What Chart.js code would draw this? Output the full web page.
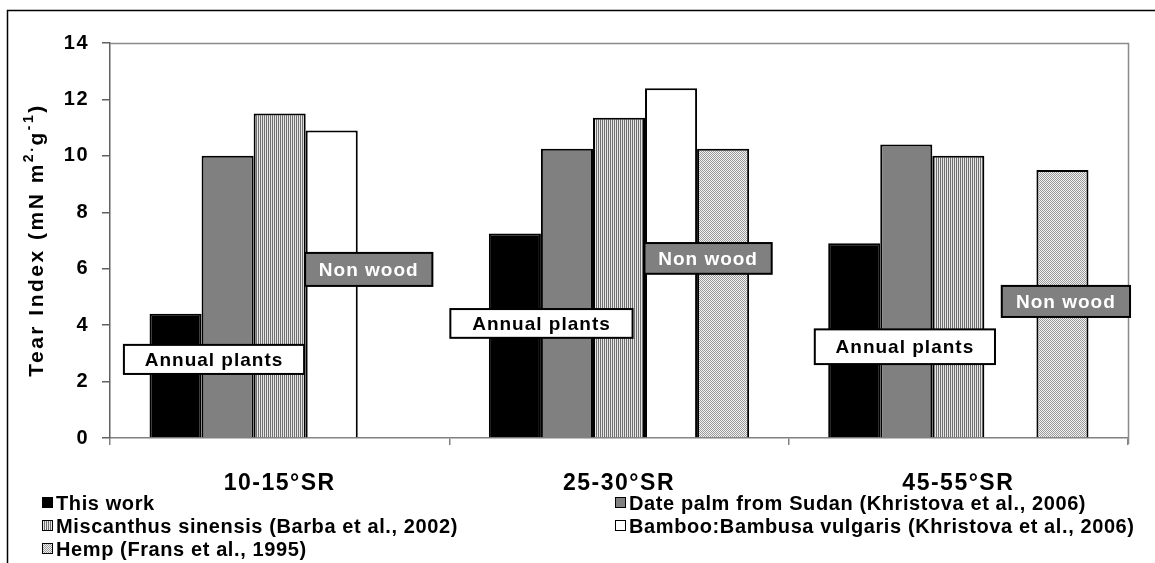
<!DOCTYPE html>
<html>
<head>
<meta charset="utf-8">
<script src="https://cdn.jsdelivr.net/npm/chart.js@4"></script>
<style>
  html, body { margin: 0; padding: 0; background: #fff; }
  #wrap { position: relative; width: 1155px; height: 563px; }
</style>
</head>
<body>
<div id="wrap"><canvas id="c" width="1155" height="563"></canvas></div>
<script>
// Spinning-range categories and tear index values (mN m2/g)
const categories = ['10-15°SR', '25-30°SR', '45-55°SR'];
const thisWork   = [4.4, 7.25, 6.9];
const datePalm   = [10.0, 10.25, 10.4];
const miscanthus = [11.5, 11.35, 10.0];
const bamboo     = [10.9, 12.4, null];
const hemp       = [null, 10.25, 9.5];
const seriesNames = [
  'This work',
  'Date palm from Sudan (Khristova et al., 2006)',
  'Miscanthus sinensis (Barba et al., 2002)',
  'Bamboo:Bambusa vulgaris (Khristova et al., 2006)',
  'Hemp (Frans et al., 1995)'
];
const yTicks = [0, 2, 4, 6, 8, 10, 12, 14];

// Group labels placed inside the plot: category index, horizontal span
// (fraction of a category around its centre) and vertical span (value units)
const notes = [
  { text: 'Annual plants', cat: 0, x0: -0.459, x1: 0.072, y0: 2.27, y1: 3.30, kind: 'annual' },
  { text: 'Non wood',      cat: 0, x0: 0.075,  x1: 0.45,  y0: 5.39, y1: 6.56, kind: 'nonwood' },
  { text: 'Annual plants', cat: 1, x0: -0.497, x1: 0.040, y0: 3.55, y1: 4.57, kind: 'annual' },
  { text: 'Non wood',      cat: 1, x0: 0.075,  x1: 0.45,  y0: 5.82, y1: 6.91, kind: 'nonwood' },
  { text: 'Annual plants', cat: 2, x0: -0.423, x1: 0.108, y0: 2.62, y1: 3.85, kind: 'annual' },
  { text: 'Non wood',      cat: 2, x0: 0.128,  x1: 0.506, y0: 4.29, y1: 5.39, kind: 'nonwood' }
];

function makePattern(w, h, painter) {
  const cv = document.createElement('canvas');
  cv.width = w; cv.height = h;
  const g = cv.getContext('2d');
  painter(g);
  return g.createPattern(cv, 'repeat');
}
// fine vertical hatching
const stripeFill = makePattern(2, 1, g => {
  g.fillStyle = '#e6e6e6'; g.fillRect(0, 0, 2, 1);
  g.fillStyle = '#707070'; g.fillRect(0, 0, 1, 1);
});
// fine stipple
const dotFill = makePattern(2, 2, g => {
  g.fillStyle = '#f2f2f2'; g.fillRect(0, 0, 2, 2);
  g.fillStyle = '#9a9a9a'; g.fillRect(0, 0, 1, 1); g.fillRect(1, 1, 1, 1);
});

const fills = ['#000000', '#808080', stripeFill, '#ffffff', dotFill];
const values = [thisWork, datePalm, miscanthus, bamboo, hemp];

const FONT = '"Liberation Sans", Arial, sans-serif';

const decorPlugin = {
  id: 'decor',
  beforeDraw(chart) {
    const { ctx } = chart;
    ctx.fillStyle = '#fff';
    ctx.fillRect(0, 0, chart.width, chart.height);
    // wide letter spacing used by all axis text
    ctx.letterSpacing = '1.5px';
    ctx.save();
    // outer frame
    ctx.strokeStyle = '#000';
    ctx.lineWidth = 1.5;
    ctx.strokeRect(7.5, 10.5, 1300, 700);
    ctx.restore();
  },
  beforeDatasetsDraw(chart) {
    const { ctx, chartArea: a } = chart;
    ctx.save();
    ctx.strokeStyle = '#8a8a8a';
    ctx.lineWidth = 1.5;
    ctx.beginPath();
    ctx.moveTo(a.left, a.top + 0.5);
    ctx.lineTo(a.right + 0.5, a.top + 0.5);
    ctx.lineTo(a.right + 0.5, a.bottom + 6);
    ctx.stroke();
    ctx.restore();
  },
  afterDatasetsDraw(chart) {
    const { ctx } = chart;
    const xs = chart.scales.x, ys = chart.scales.y;
    const catW = (xs.right - xs.left) / categories.length;
    ctx.save();
    ctx.font = 'bold 19px ' + FONT;
    ctx.letterSpacing = '1px';
    ctx.textAlign = 'center';
    ctx.textBaseline = 'middle';
    notes.forEach(n => {
      const cx = xs.getPixelForValue(n.cat);
      const l = cx + n.x0 * catW, r = cx + n.x1 * catW;
      const t = ys.getPixelForValue(n.y1), b = ys.getPixelForValue(n.y0);
      ctx.fillStyle = n.kind === 'annual' ? '#ffffff' : '#808080';
      ctx.fillRect(l, t, r - l, b - t);
      ctx.strokeStyle = '#000';
      ctx.lineWidth = 2;
      ctx.strokeRect(l, t, r - l, b - t);
      ctx.fillStyle = n.kind === 'annual' ? '#000' : '#fff';
      ctx.fillText(n.text, (l + r) / 2, (t + b) / 2 + 1);
    });
    ctx.restore();
  },
  afterDraw(chart) {
    const { ctx } = chart;
    ctx.save();
    // y axis title with superscripts
    const parts = [
      { s: 'Tear Index (mN m', sup: false },
      { s: '2.', sup: true },
      { s: 'g', sup: false },
      { s: '-1', sup: true },
      { s: ')', sup: false }
    ];
    const big = 'bold 21px ' + FONT, small = 'bold 14px ' + FONT;
    ctx.letterSpacing = '2.5px';
    let total = 0;
    parts.forEach(p => { ctx.font = p.sup ? small : big; p.w = ctx.measureText(p.s).width; total += p.w; });
    ctx.translate(37, 240);
    ctx.rotate(-Math.PI / 2);
    ctx.fillStyle = '#000';
    ctx.textBaseline = 'middle';
    ctx.textAlign = 'left';
    let x = -total / 2;
    parts.forEach(p => {
      ctx.font = p.sup ? small : big;
      ctx.fillText(p.s, x, p.sup ? -8 : 0);
      x += p.w;
    });
    ctx.restore();

    // legend in two columns
    ctx.save();
    const cols = [42, 615];
    const rows = [503, 526, 549];
    ctx.font = 'bold 20px ' + FONT;
    ctx.letterSpacing = '0.6px';
    ctx.textBaseline = 'middle';
    ctx.textAlign = 'left';
    seriesNames.forEach((name, i) => {
      const x = cols[i % 2], y = rows[Math.floor(i / 2)];
      ctx.fillStyle = fills[i];
      ctx.fillRect(x, y - 6, 11, 11);
      ctx.strokeStyle = '#000';
      ctx.lineWidth = 1;
      ctx.strokeRect(x + 0.5, y - 5.5, 10, 10);
      ctx.fillStyle = '#000';
      ctx.fillText(name, x + 14, y + 1);
    });
    ctx.restore();
  }
};

new Chart(document.getElementById('c'), {
  type: 'bar',
  data: {
    labels: categories,
    datasets: values.map((v, i) => ({
      label: seriesNames[i],
      data: v,
      backgroundColor: fills[i],
      borderColor: '#000',
      borderWidth: 2,
      borderSkipped: 'bottom',
      categoryPercentage: 0.767,
      barPercentage: 1.0
    }))
  },
  options: {
    responsive: false,
    animation: false,
    events: [],
    layout: { padding: { left: 10, top: 43, right: 27, bottom: 65 } },
    plugins: { legend: { display: false }, title: { display: false }, tooltip: { enabled: false } },
    scales: {
      x: {
        grid: { offset: true, drawOnChartArea: false, tickLength: 7, color: '#808080', lineWidth: 1.5 },
        border: { color: '#808080', width: 1.5 },
        ticks: { color: '#000', font: { family: FONT, size: 23, weight: 'bold' }, padding: 25, maxRotation: 0 },
        afterFit(s) { s.height = 60; }
      },
      y: {
        min: 0, max: 14,
        afterBuildTicks(s) { s.ticks = yTicks.map(v => ({ value: v })); },
        grid: { drawOnChartArea: false, tickLength: 8, color: '#606060', lineWidth: 1.5 },
        border: { color: '#606060', width: 1.5 },
        ticks: { color: '#000', font: { family: FONT, size: 20, weight: 'bold' }, padding: 13 },
        afterFit(s) { s.width = 100; }
      }
    }
  },
  plugins: [decorPlugin]
});
</script>
</body>
</html>
